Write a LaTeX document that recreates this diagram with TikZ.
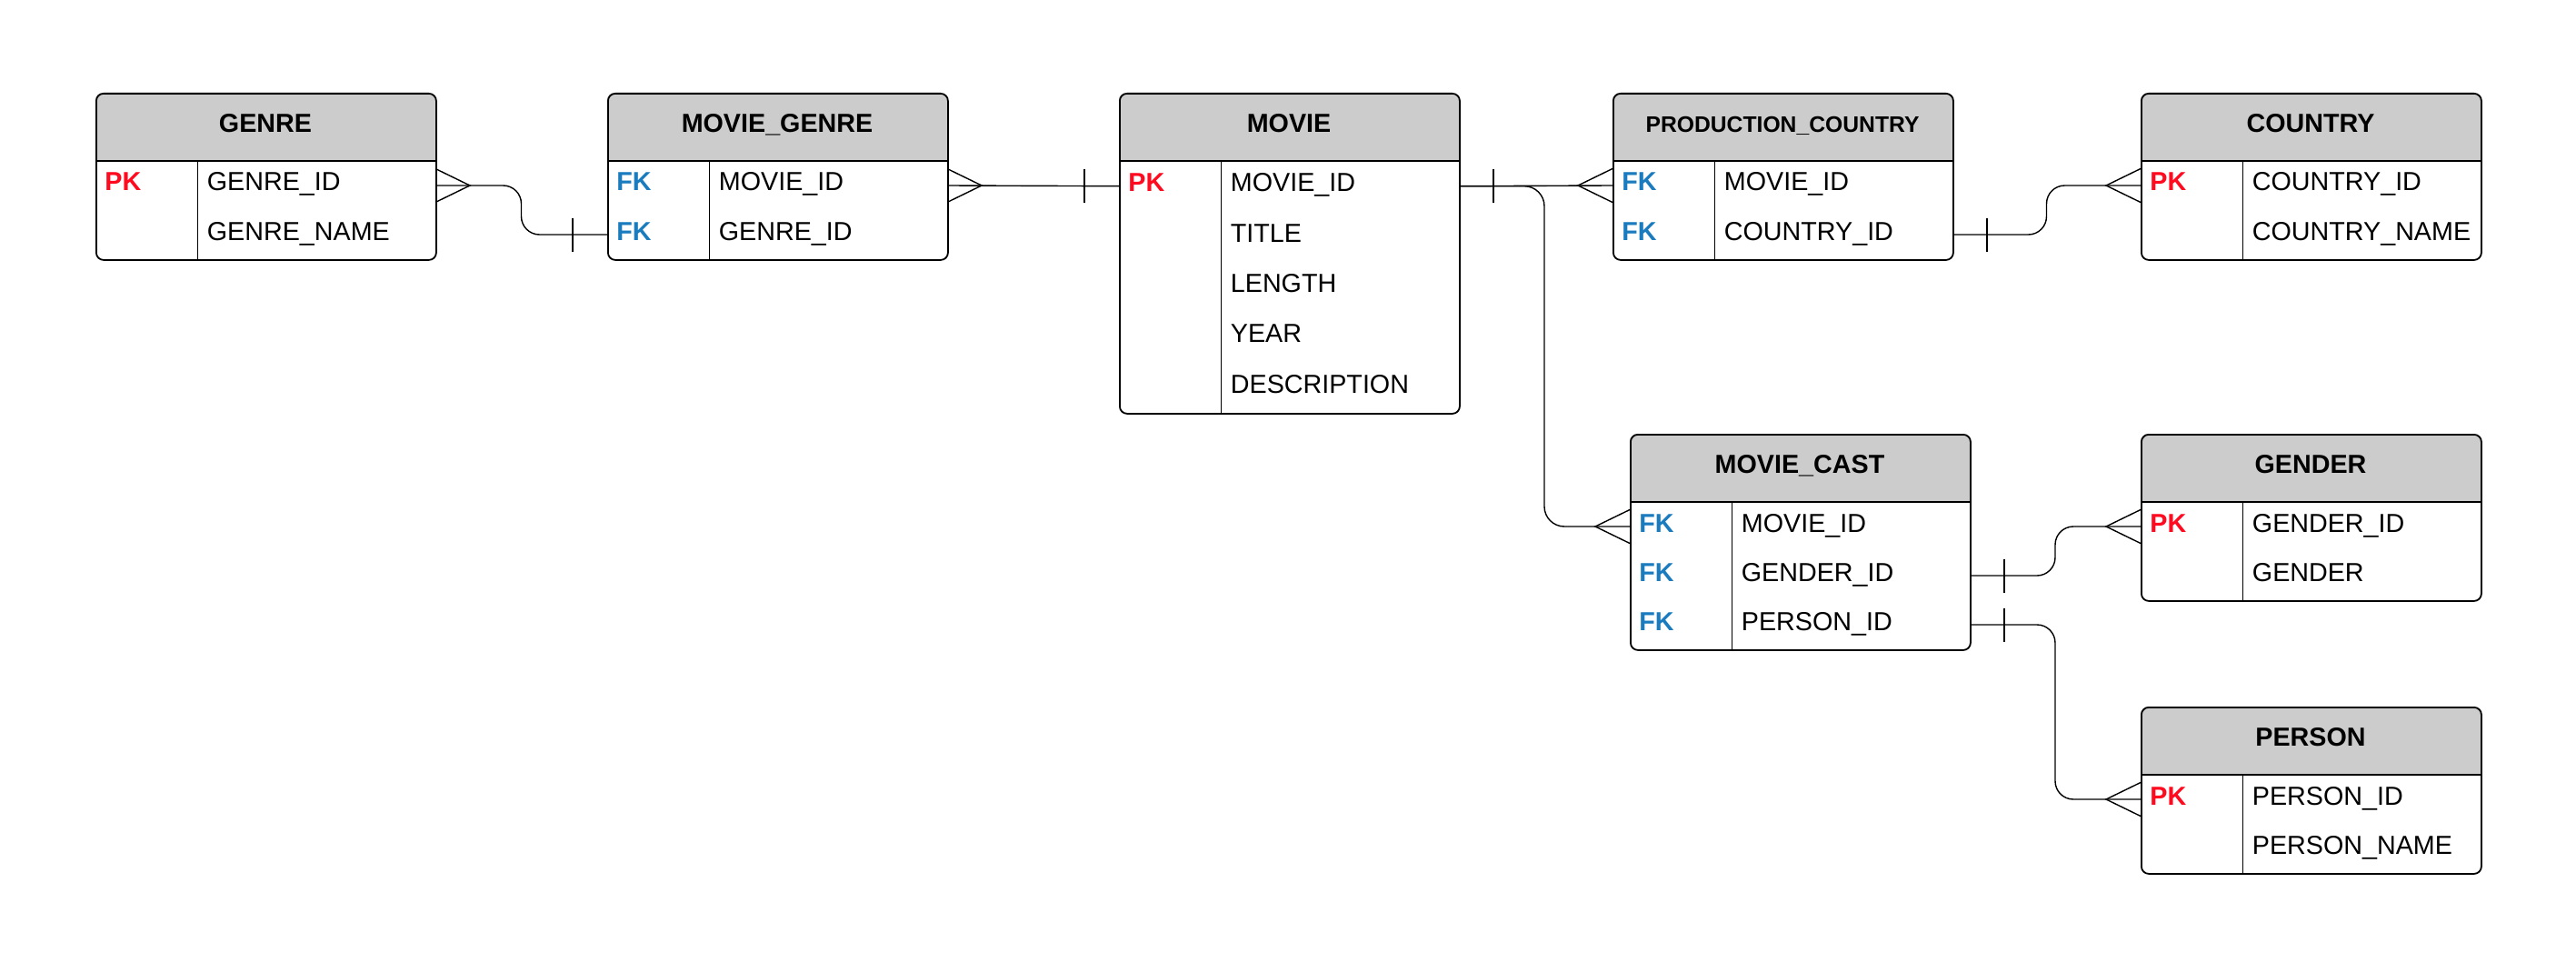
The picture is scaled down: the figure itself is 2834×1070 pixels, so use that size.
\documentclass[tikz,border=0pt]{standalone}
\usepackage{fontspec}
\setmainfont{Liberation Sans}
\usetikzlibrary{calc}
\definecolor{hdrgray}{HTML}{CCCCCC}
\definecolor{pkred}{HTML}{FF0A1E}
\definecolor{fkblue}{HTML}{1A7BBE}

% #1 name, #2 x, #3 y, #4 title, #5 nrows, #6 row height, #7 title size
\newcommand\ertable[7]{%
  \fill[hdrgray, rounded corners=4pt] (#2,#3) rectangle (#2+374,#3+90);
  \fill[white] (#2,#3+75) rectangle (#2+374,#3+95);
  \draw[divline] (#2+112,#3+75) -- (#2+112,#3+75+#5*#6);
  \draw[hdrline] (#2,#3+75) -- (#2+374,#3+75);
  \node[tbox, minimum height={(75+#5*#6)*0.5pt}] (#1-box) at (#2,#3) {};
  \node[titletext, font={\fontsize{#7}{#7}\selectfont\bfseries}] (#1) at (#2+187,#3+43.5) {#4};
}
% #1 name, #2 x, #3 y, #4 index, #5 key, #6 field, #7 row height
\newcommand\errow[7]{%
  \pgfmathsetmacro\erC{#3+75+(#4-0.5)*#7}
  \coordinate (#1-r#4w) at (#2,\erC);
  \coordinate (#1-r#4e) at (#2+374,\erC);
  \node[keytext, #5] (#1-k#4) at (#2+10,\erC+6) {#5};
  \node[fieldtext] (#1-f#4) at (#2+122.5,\erC+6) {#6};
}
\newcommand\ercrow[2]{\draw[conn] (#1) ++(0,-18.5) -- ++(#2*38,18.5) -- ++(-#2*38,18.5);}
\newcommand\ertick[2]{\draw[conn] (#1) ++(#2*38,-18.5) -- ++(0,37);}
% elbow connector from #1 to #2 with mid coordinate name #3
\newcommand\erelbow[4]{%
  \coordinate (#3) at ($(#1)!0.5!(#2)$);
  \draw[conn, rounded corners=#4] (#1) -- (#3 |- #1) -- (#3 |- #2) -- (#2);
}

\begin{document}
\begin{tikzpicture}[x=0.5pt,y=-0.5pt,
  tbox/.style={draw=black, line width=0.9pt, rounded corners=4pt, minimum width=187pt, inner sep=0pt, anchor=north west, fill=none},
  hdrline/.style={line width=1pt, black},
  divline/.style={line width=0.5pt, black},
  conn/.style={line width=0.7pt, black},
  titletext/.style={anchor=base, inner sep=0pt, text=black},
  keytext/.style={anchor=base west, inner sep=0pt, font={\fontsize{14.35}{17}\selectfont\bfseries}},
  fieldtext/.style={anchor=base west, inner sep=0pt, font={\fontsize{14.35}{17}\selectfont}, text=black},
  PK/.style={text=pkred},
  FK/.style={text=fkblue}]
\useasboundingbox (0,0) rectangle (2834,1070);

% GENRE
\ertable{genre}{105}{102}{GENRE}{2}{54}{14.35}
\errow{genre}{105}{102}{1}{PK}{GENRE\_ID}{54}
\errow{genre}{105}{102}{2}{}{GENRE\_NAME}{54}

% MOVIE_GENRE
\ertable{mg}{668}{102}{MOVIE\_GENRE}{2}{54}{14.35}
\errow{mg}{668}{102}{1}{FK}{MOVIE\_ID}{54}
\errow{mg}{668}{102}{2}{FK}{GENRE\_ID}{54}

% MOVIE
\ertable{movie}{1231}{102}{MOVIE}{5}{55.4}{14.35}
\errow{movie}{1231}{102}{1}{PK}{MOVIE\_ID}{55.4}
\errow{movie}{1231}{102}{2}{}{TITLE}{55.4}
\errow{movie}{1231}{102}{3}{}{LENGTH}{55.4}
\errow{movie}{1231}{102}{4}{}{YEAR}{55.4}
\errow{movie}{1231}{102}{5}{}{DESCRIPTION}{55.4}

% PRODUCTION_COUNTRY
\ertable{pc}{1774}{102}{PRODUCTION\_COUNTRY}{2}{54}{12.35}
\errow{pc}{1774}{102}{1}{FK}{MOVIE\_ID}{54}
\errow{pc}{1774}{102}{2}{FK}{COUNTRY\_ID}{54}

% COUNTRY
\ertable{country}{2355}{102}{COUNTRY}{2}{54}{14.35}
\errow{country}{2355}{102}{1}{PK}{COUNTRY\_ID}{54}
\errow{country}{2355}{102}{2}{}{COUNTRY\_NAME}{54}

% MOVIE_CAST
\ertable{mc}{1793}{477}{MOVIE\_CAST}{3}{54}{14.35}
\errow{mc}{1793}{477}{1}{FK}{MOVIE\_ID}{54}
\errow{mc}{1793}{477}{2}{FK}{GENDER\_ID}{54}
\errow{mc}{1793}{477}{3}{FK}{PERSON\_ID}{54}

% GENDER
\ertable{gender}{2355}{477}{GENDER}{2}{54}{14.35}
\errow{gender}{2355}{477}{1}{PK}{GENDER\_ID}{54}
\errow{gender}{2355}{477}{2}{}{GENDER}{54}

% PERSON
\ertable{person}{2355}{777}{PERSON}{2}{54}{14.35}
\errow{person}{2355}{777}{1}{PK}{PERSON\_ID}{54}
\errow{person}{2355}{777}{2}{}{PERSON\_NAME}{54}

% connectors
\erelbow{genre-r1e}{mg-r2w}{m1}{10pt}
\draw[conn] (mg-r1e) -- (movie-r1w);
\draw[conn] (movie-r1e) -- (pc-r1w);
\erelbow{movie-r1e}{mc-r1w}{m2}{11pt}
\erelbow{pc-r2e}{country-r1w}{m3}{10pt}
\erelbow{mc-r2e}{gender-r1w}{m4}{10pt}
\erelbow{mc-r3e}{person-r1w}{m5}{10pt}

% crow's feet (many)
\ercrow{genre-r1e}{1}
\ercrow{mg-r1e}{1}
\ercrow{pc-r1w}{-1}
\ercrow{mc-r1w}{-1}
\ercrow{country-r1w}{-1}
\ercrow{gender-r1w}{-1}
\ercrow{person-r1w}{-1}

% bars (one)
\ertick{mg-r2w}{-1}
\ertick{movie-r1w}{-1}
\ertick{movie-r1e}{1}
\ertick{pc-r2e}{1}
\ertick{mc-r2e}{1}
\ertick{mc-r3e}{1}
\end{tikzpicture}
\end{document}
